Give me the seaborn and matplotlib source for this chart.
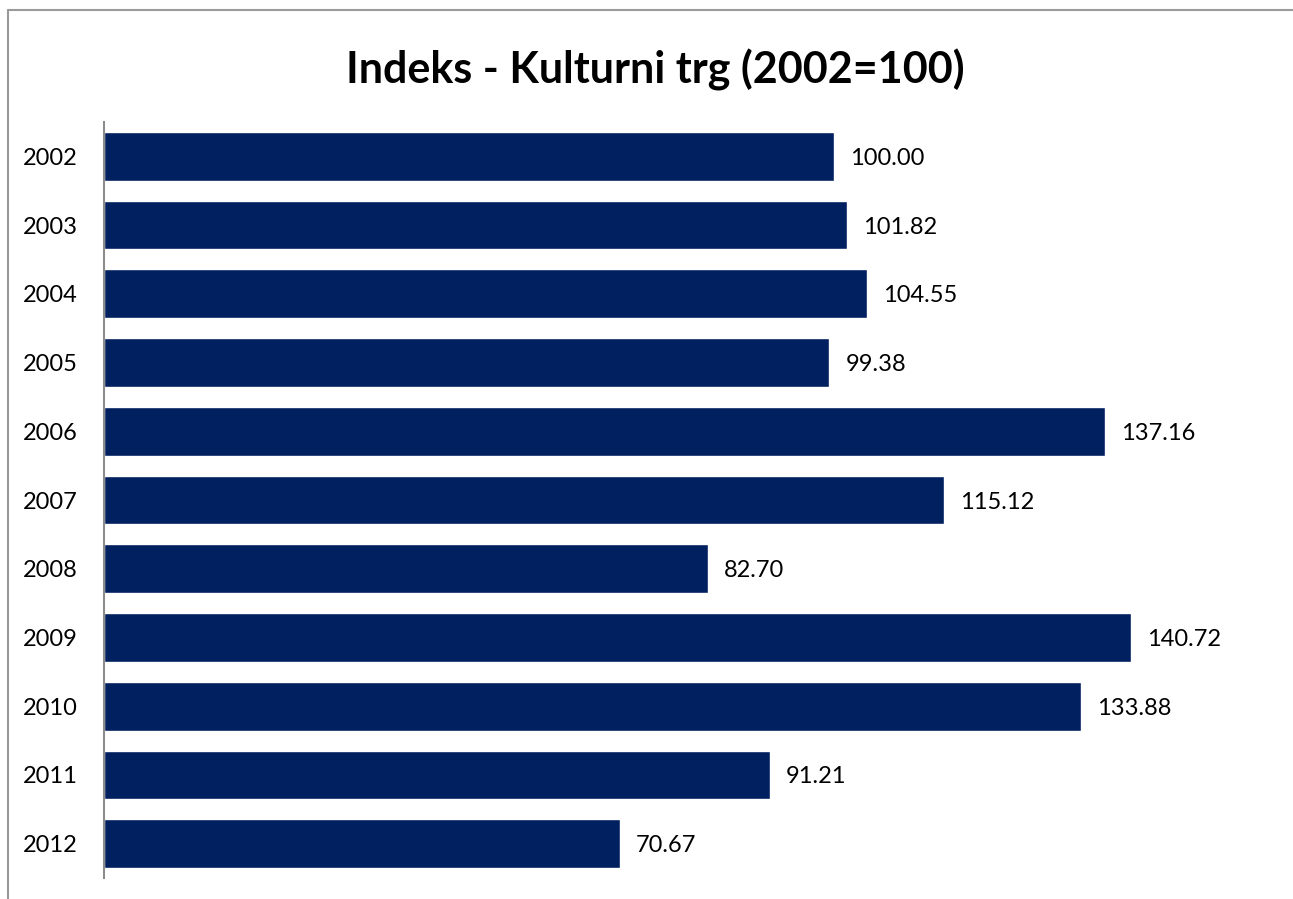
import matplotlib
matplotlib.use("Agg")
import matplotlib.pyplot as plt
from matplotlib.lines import Line2D
import seaborn as sns
import pandas as pd

# --- data ---
years = ["2002", "2003", "2004", "2005", "2006", "2007", "2008", "2009", "2010", "2011", "2012"]
index_values = [100.00, 101.82, 104.55, 99.38, 137.16, 115.12, 82.70, 140.72, 133.88, 91.21, 70.67]
title = "Indeks - Kulturni trg (2002=100)"

df = pd.DataFrame({"year": years, "value": index_values})

sns.set_style("white")
plt.rcParams["font.family"] = ["Lato", "DejaVu Sans"]
plt.rcParams["text.color"] = "black"
plt.rcParams["ytick.color"] = "black"

W, H = 1293, 899
fig = plt.figure(figsize=(W / 100, H / 100), dpi=100)
ax = fig.add_axes([104 / W, 1 - 878 / H, (1272 - 104) / W, (878 - 122) / H])

sns.barplot(data=df, x="value", y="year", orient="h", color="#012060",
            width=0.71, saturation=1, ax=ax)

ax.set_xlim(0, 160)
ax.set_ylim(len(years) - 0.5, -0.5)
ax.set_xlabel("")
ax.set_ylabel("")
ax.set_xticks([])
ax.tick_params(axis="y", length=0, labelsize=17, pad=19, labelcolor="black")
for s in ["top", "right", "bottom"]:
    ax.spines[s].set_visible(False)
ax.spines["left"].set_color("#8c8c8c")
ax.spines["left"].set_linewidth(1.5)

# value labels to the right of each bar
for i, v in enumerate(index_values):
    ax.text(v + 2.2, i + 0.03, f"{v:.2f}", va="center", ha="left", fontsize=17, color="black")

fig.text(655 / W, 1 - 70 / H, title, ha="center", va="center",
         fontsize=31, fontweight="bold", color="black")

# outer chart border (cropped at right/bottom)
fig.add_artist(Line2D([8 / W, 8 / W], [0, 1 - 10 / H], transform=fig.transFigure,
                      color="#9a9a9a", lw=1.5))
fig.add_artist(Line2D([8 / W, 1], [1 - 10 / H, 1 - 10 / H], transform=fig.transFigure,
                      color="#9a9a9a", lw=1.5))

fig.savefig("out.png", dpi=100)
